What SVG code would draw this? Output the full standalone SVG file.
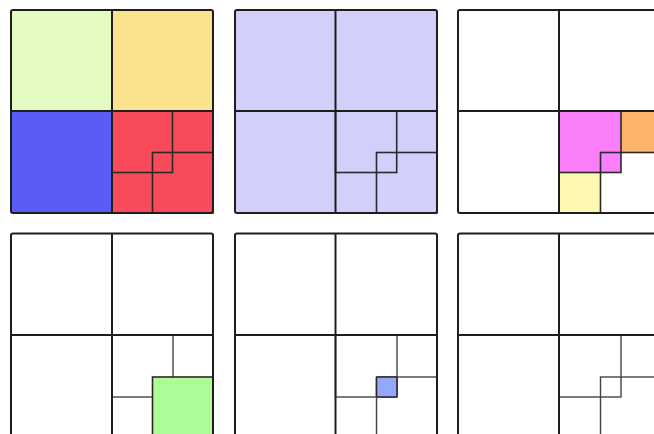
<svg xmlns="http://www.w3.org/2000/svg" width="654" height="434" viewBox="0 0 654 434">
<style>
.outer{fill:none;stroke:#1e1e1e;stroke-width:2;stroke-linejoin:round}
.mid{fill:none;stroke:#1e1e1e;stroke-width:2}
.inner{fill:none;stroke:#2a2a2a;stroke-width:1.6}
.light{fill:none;stroke:#444;stroke-width:1.4}
.cell{stroke:none}
</style>
<rect width="654" height="434" fill="#ffffff"/>

<g id="panel1">
<rect class="cell" x="11" y="10" width="101" height="101" fill="#e4fcc2"/>
<rect class="cell" x="112" y="10" width="101" height="101" fill="#fbe28f"/>
<rect class="cell" x="11" y="111" width="101" height="102" fill="#5b5bf6"/>
<rect class="cell" x="112" y="111" width="101" height="102" fill="#f84a5b"/>
<rect class="inner" x="112" y="111" width="60.5" height="61.5"/>
<rect class="inner" x="152.5" y="152.5" width="60.5" height="60.5"/>
<line class="mid" x1="112" y1="10" x2="112" y2="213"/>
<line class="mid" x1="11" y1="111" x2="213" y2="111"/>
<rect class="outer" x="11" y="10" width="202" height="203" rx="2"/>
</g>

<g id="panel2">
<rect class="cell" x="235" y="10" width="202" height="203" fill="#d0d0fb"/>
<rect class="inner" x="335.5" y="111" width="61.2" height="61.5"/>
<rect class="inner" x="376.5" y="152.5" width="60.5" height="60.5"/>
<line class="mid" x1="335.5" y1="10" x2="335.5" y2="213"/>
<line class="mid" x1="235" y1="111" x2="437" y2="111"/>
<rect class="outer" x="235" y="10" width="202" height="203" rx="2"/>
</g>

<g id="panel3">
<rect class="cell" x="559" y="111" width="62" height="61.5" fill="#fb7efb"/>
<rect class="cell" x="621" y="111" width="40" height="41.5" fill="#fcb46c"/>
<rect class="cell" x="559" y="172.5" width="41.5" height="40.5" fill="#fcf8b0"/>
<rect class="inner" x="559" y="111" width="62" height="61.5"/>
<rect class="inner" x="600.5" y="152.5" width="60.5" height="60.5"/>
<line class="mid" x1="559" y1="10" x2="559" y2="213"/>
<line class="mid" x1="458" y1="111" x2="661" y2="111"/>
<rect class="outer" x="458" y="10" width="203" height="203" rx="2"/>
</g>

<g id="panel4">
<rect class="light" x="112" y="335" width="61" height="62"/>
<rect x="152.5" y="377" width="60.5" height="60" fill="#adfc98" stroke="#2a2a2a" stroke-width="1.6"/>
<line class="mid" x1="112" y1="233.5" x2="112" y2="437"/>
<line class="mid" x1="11" y1="335" x2="213" y2="335"/>
<rect class="outer" x="11" y="233.5" width="202" height="203.5" rx="2"/>
</g>

<g id="panel5">
<rect class="light" x="335.5" y="335" width="61.5" height="62"/>
<rect class="light" x="376.5" y="377" width="60.5" height="60"/>
<rect x="376.5" y="377" width="20.5" height="20" fill="#93a8fb" stroke="#2a2a2a" stroke-width="1.6" rx="1"/>
<line class="mid" x1="335.5" y1="233.5" x2="335.5" y2="437"/>
<line class="mid" x1="235" y1="335" x2="437" y2="335"/>
<rect class="outer" x="235" y="233.5" width="202" height="203.5" rx="2"/>
</g>

<g id="panel6">
<rect class="light" x="559" y="335" width="62" height="62"/>
<rect class="light" x="600.5" y="377" width="60.5" height="60"/>
<line class="mid" x1="559" y1="233.5" x2="559" y2="437"/>
<line class="mid" x1="458" y1="335" x2="661" y2="335"/>
<rect class="outer" x="458" y="233.5" width="203" height="203.5" rx="2"/>
</g>
</svg>
